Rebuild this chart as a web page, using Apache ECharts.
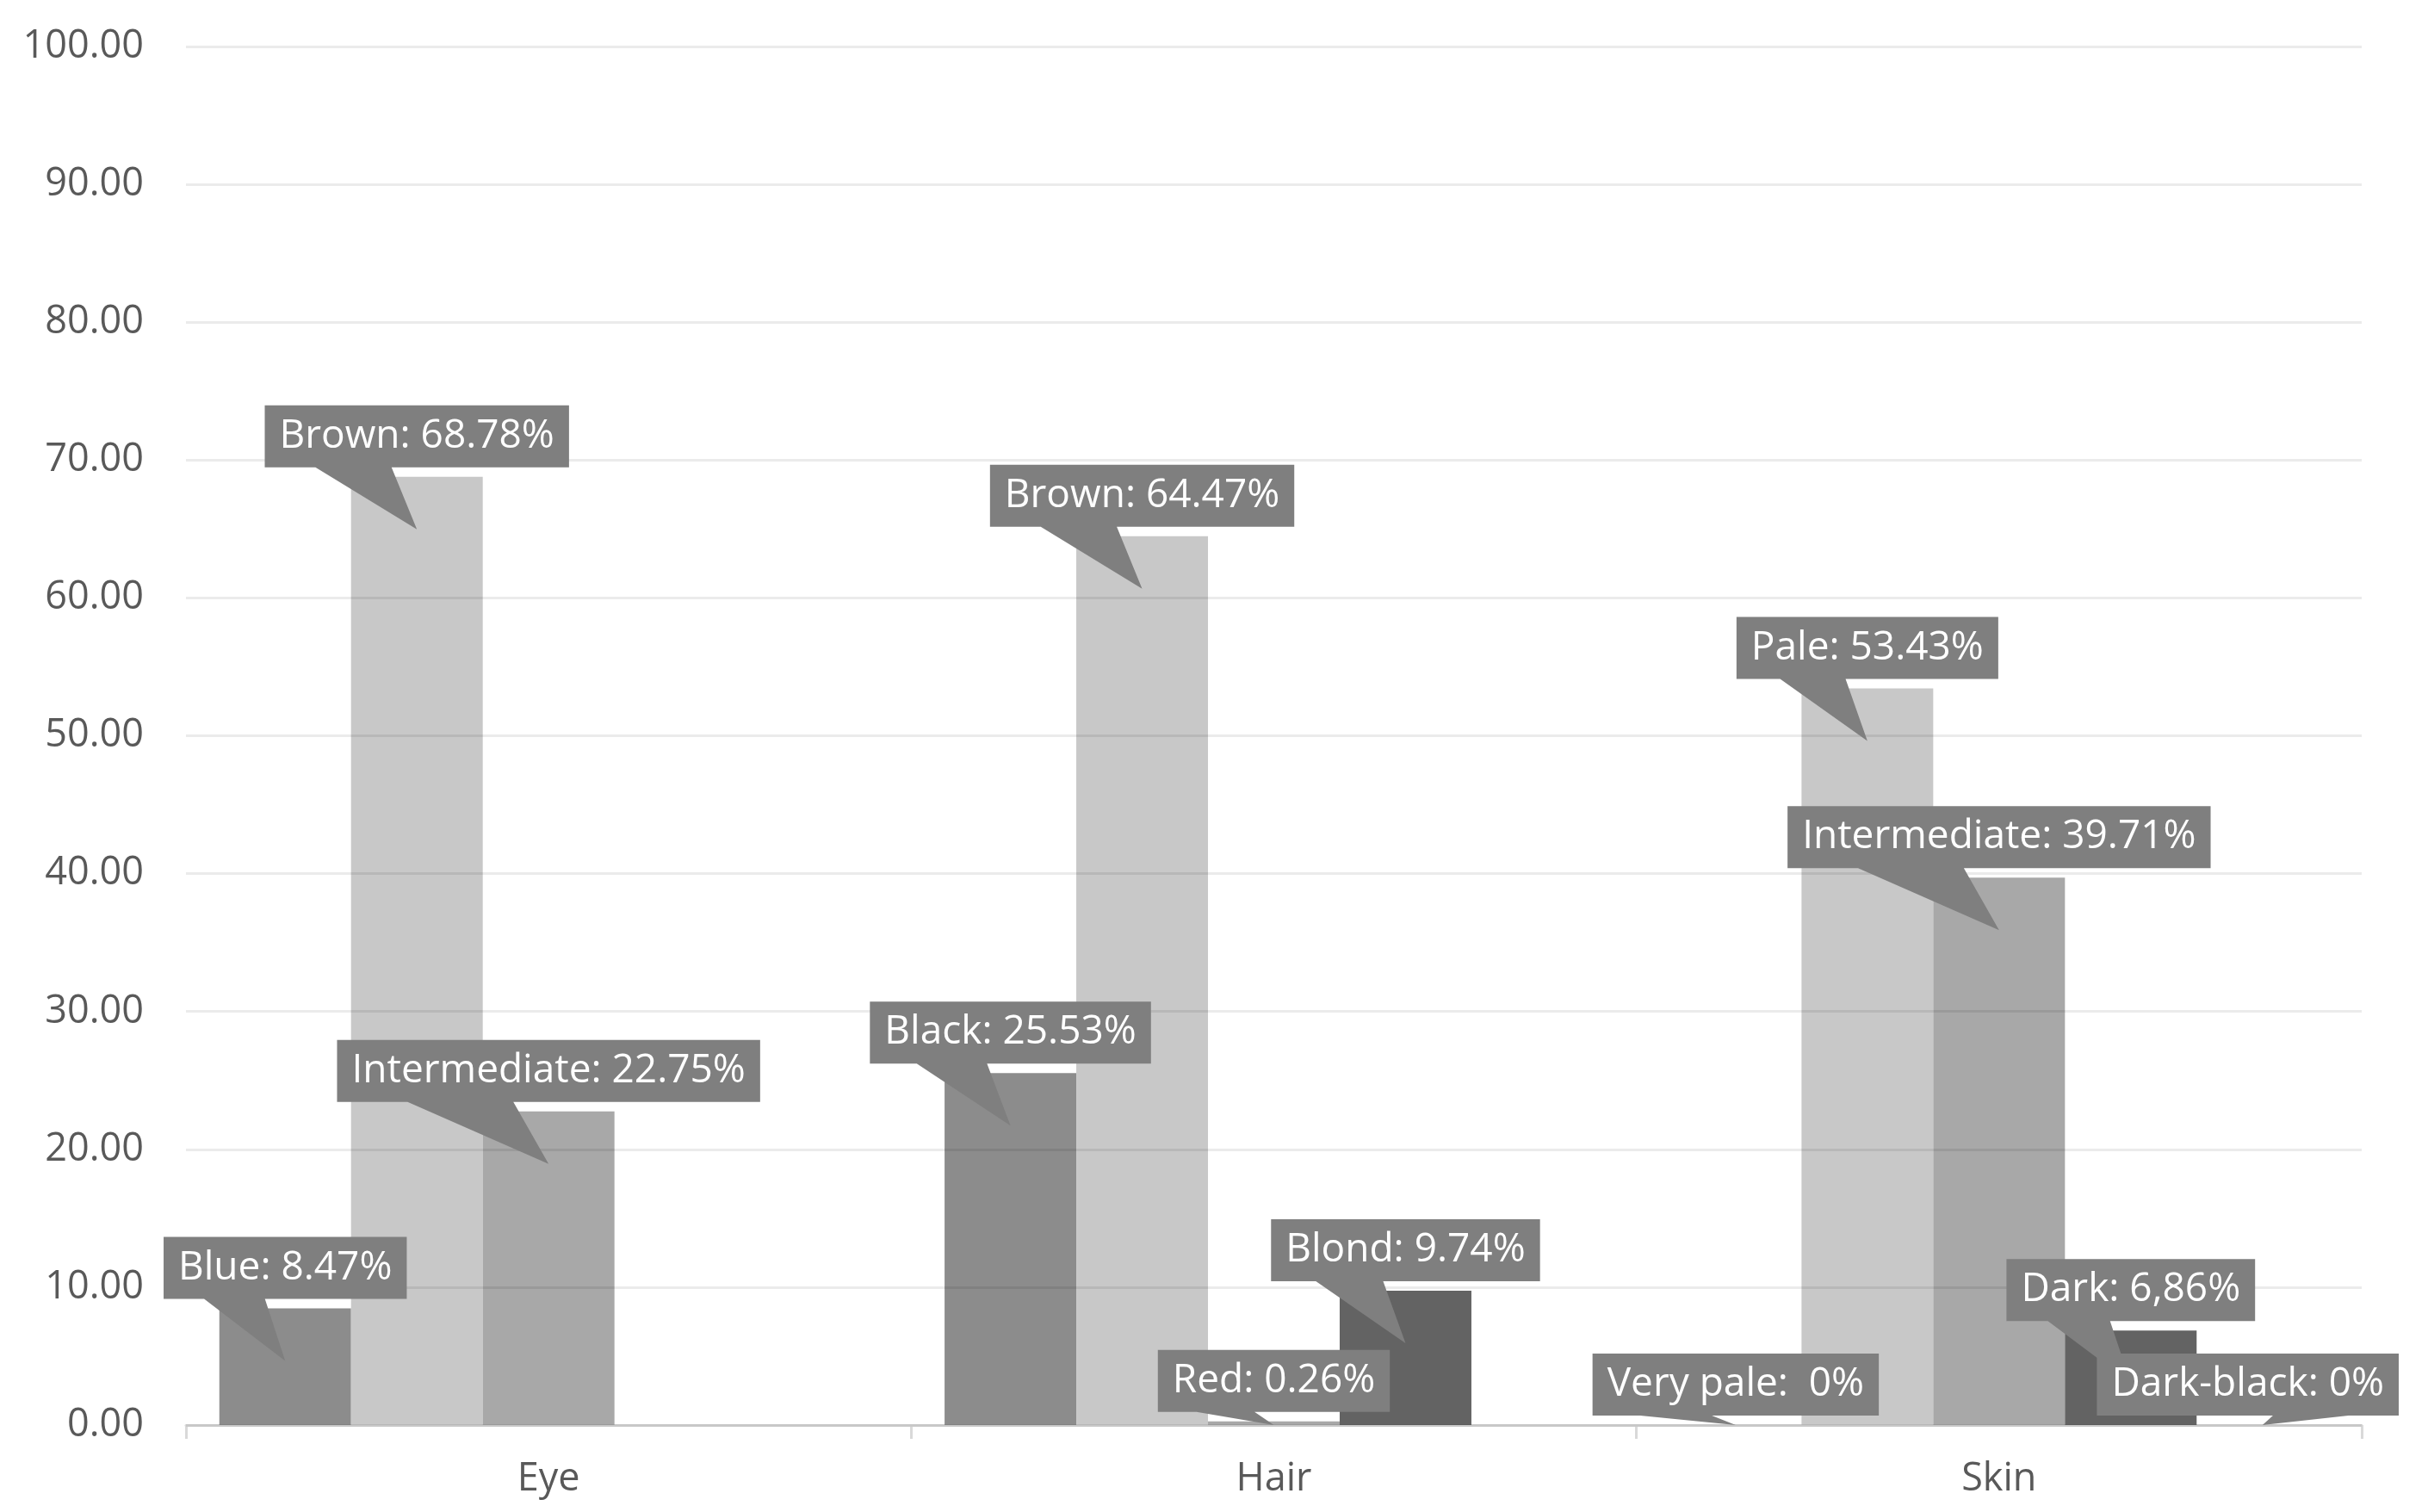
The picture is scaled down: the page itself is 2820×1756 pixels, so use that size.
<!DOCTYPE html>
<html>
<head>
<meta charset="utf-8">
<script src="https://cdn.jsdelivr.net/npm/echarts@6/dist/echarts.min.js"></script>
<style>
html,body{margin:0;padding:0;background:#ffffff;}
#chart{width:2820px;height:1756px;}
</style>
</head>
<body>
<div id="chart"></div>
<script>
// ---------- data ----------
const categories = ['Eye', 'Hair', 'Skin'];
const yTickMin = 0, yTickMax = 100, yTickStep = 10;

const slot1Values = [8.47, 25.53, 0];
const slot2Values = [68.78, 64.47, 53.43];
const slot3Values = [22.75, 0.26, 39.71];
const slot4Values = [null, 9.74, 6.86];
const slot5Values = [null, null, 0];

const slot1Labels = ['Blue: 8.47%', 'Black: 25.53%', 'Very pale:  0%'];
const slot2Labels = ['Brown: 68.78%', 'Brown: 64.47%', 'Pale: 53.43%'];
const slot3Labels = ['Intermediate: 22.75%', 'Red: 0.26%', 'Intermediate: 39.71%'];
const slot4Labels = [null, 'Blond: 9.74%', 'Dark: 6,86%'];
const slot5Labels = [null, null, 'Dark-black: 0%'];

// ---------- style ----------
const slotColors = ['#8c8c8c', '#c8c8c8', '#a8a8a8', '#636363', '#4d4d4d'];
const FONT = '"Open Sans", "Noto Sans", sans-serif';
const LABEL_SIZE = 46;
const AXIS_SIZE = 45;
const CAT_GAP = 0.092;
const N_SLOTS = 5;
const PAD_X = 17, BOX_H = 72, BOX_GAP = 11, TIP_DEPTH = 61, RIGHT_OVERHANG = 43;
const CALLOUT_FILL = '#7f7f7f';

const measureCtx = document.createElement('canvas').getContext('2d');
function textWidth(t) {
  measureCtx.font = LABEL_SIZE + 'px ' + FONT;
  return measureCtx.measureText(t).width;
}

const allValues = [slot1Values, slot2Values, slot3Values, slot4Values, slot5Values];
const allLabels = [slot1Labels, slot2Labels, slot3Labels, slot4Labels, slot5Labels];

function makeRender(slot, labels) {
  return function (params, api) {
    const ci = api.value(0);
    const v = api.value(1);
    const base = api.coord([ci, 0]);
    const top = api.coord([ci, v]);
    const band = api.size([1, 0])[0];
    const used = band * (1 - CAT_GAP);
    const barW = used / N_SLOTS;
    const cx = base[0] - used / 2 + (slot + 0.5) * barW;
    const text = labels[ci];
    const w = textWidth(text) + 2 * PAD_X;
    const h = BOX_H;
    let left = cx - w / 2;
    const maxRight = params.coordSys.x + params.coordSys.width + RIGHT_OVERHANG;
    if (left + w > maxRight) left = maxRight - w;
    const bottom = top[1] - BOX_GAP;
    const tipX = cx;
    const tipY = Math.min(top[1] + TIP_DEPTH, base[1]);
    const dx = tipX - (left + w / 2);
    const g1 = dx > 0.5 ? 7 : 2, g2 = dx > 0.5 ? 10 : 5;
    const b1 = left + w * g1 / 12, b2 = left + w * g2 / 12;
    const pts = [
      [left, bottom - h], [left + w, bottom - h], [left + w, bottom],
      [b2, bottom], [tipX, tipY], [b1, bottom], [left, bottom]
    ];
    return {
      type: 'group',
      children: [
        { type: 'polygon', shape: { points: pts }, style: { fill: CALLOUT_FILL } },
        { type: 'text', style: {
            text: text, x: left + w / 2, y: bottom - h / 2,
            align: 'center', verticalAlign: 'middle',
            fill: '#ffffff', fontSize: LABEL_SIZE, fontFamily: FONT
        } }
      ]
    };
  };
}

const barSeries = allValues.map((vals, s) => ({
  type: 'bar',
  name: 'slot' + (s + 1),
  data: vals,
  barGap: 0,
  barCategoryGap: (CAT_GAP * 100) + '%',
  itemStyle: { color: slotColors[s] },
  z: 2,
  silent: true
}));

const calloutSeries = allValues.map((vals, s) => ({
  type: 'custom',
  name: 'callout' + (s + 1),
  renderItem: makeRender(s, allLabels[s]),
  data: vals.map((v, i) => v == null ? null : [i, v]).filter(d => d),
  encode: { x: 0, y: 1 },
  clip: false,
  z: 10 + s,
  silent: true
}));

const chart = echarts.init(document.getElementById('chart'), null, { renderer: 'canvas' });
chart.setOption({
  animation: false,
  backgroundColor: '#ffffff',
  grid: { left: 216, right: 77, top: 54, bottom: 101, containLabel: false },
  xAxis: {
    type: 'category',
    data: categories,
    axisLine: { show: true, lineStyle: { color: '#d9d9d9', width: 3 } },
    axisTick: { show: true, alignWithLabel: false, length: 16, lineStyle: { color: '#d9d9d9', width: 3 } },
    axisLabel: { color: '#595959', fontSize: AXIS_SIZE, fontFamily: FONT, margin: 41 },
    splitLine: { show: false }
  },
  yAxis: {
    type: 'value',
    min: yTickMin, max: yTickMax, interval: yTickStep,
    z: 3,
    axisLine: { show: false },
    axisTick: { show: false },
    axisLabel: { color: '#595959', fontSize: AXIS_SIZE, fontFamily: FONT, margin: 49,
      formatter: v => v.toFixed(2) },
    splitLine: { show: true, lineStyle: { color: 'rgba(0,0,0,0.08)', width: 3 } }
  },
  series: barSeries.concat(calloutSeries)
});
</script>
</body>
</html>
